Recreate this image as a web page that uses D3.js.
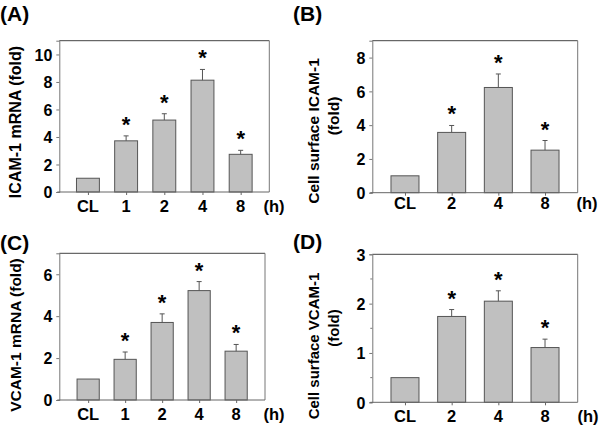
<!DOCTYPE html>
<html><head><meta charset="utf-8">
<script src="https://cdn.jsdelivr.net/npm/d3@7"></script>
<style>
html,body{margin:0;padding:0;background:#fff;}
svg text{font-family:"Liberation Sans",Arial,sans-serif;font-weight:bold;fill:#000;}
</style></head>
<body>
<svg id="chart" width="600" height="430"></svg>
<script>
// ---- data ----
const catsA = ["CL","1","2","4","8"];
const valsA = [1.0, 3.72, 5.23, 8.13, 2.74];
const errA  = [0, 0.36, 0.46, 0.78, 0.29];
const starA = [false, true, true, true, true];
const ticksA = [0,2,4,6,8,10];

const catsB = ["CL","2","4","8"];
const valsB = [1.0, 3.57, 6.23, 2.52];
const errB  = [0, 0.41, 0.80, 0.57];
const starB = [false, true, true, true];
const ticksB = [0,2,4,6,8];

const catsC = ["CL","1","2","4","8"];
const valsC = [1.0, 1.94, 3.70, 5.22, 2.33];
const errC  = [0, 0.35, 0.41, 0.43, 0.32];
const starC = [false, true, true, true, true];
const ticksC = [0,2,4,6];

const catsD = ["CL","2","4","8"];
const valsD = [0.5, 1.74, 2.05, 1.11];
const errD  = [0, 0.14, 0.21, 0.17];
const starD = [false, true, true, true];
const ticksD = [0,1,2,3];
const minorD = [0.5,1.5,2.5];

const svg = d3.select("#chart");

function panel(o){
  const g = svg.append("g");
  const x = d3.scalePoint().domain(o.cats).range([o.l, o.r]).padding(o.pad);
  const y = d3.scaleLinear().domain([0, o.ymax]).range([o.b, o.t]);
  const bw = x.step()*0.6;
  const data = o.cats.map((c,i)=>({c, v:o.vals[i], e:o.err[i], s:o.star[i]}));

  g.append("line").attr("x1",o.l).attr("x2",o.r).attr("y1",o.t).attr("y2",o.t)
    .attr("stroke","#444").attr("stroke-width",1);
  g.append("line").attr("x1",o.r).attr("x2",o.r).attr("y1",o.t).attr("y2",o.b)
    .attr("stroke","#777").attr("stroke-width",1);

  g.selectAll("rect.bar").data(data).enter().append("rect")
    .attr("x", d=>x(d.c)-bw/2).attr("width", bw)
    .attr("y", d=>y(d.v)).attr("height", d=>o.b - y(d.v))
    .attr("fill","#c0c0c0").attr("stroke","#555").attr("stroke-width",1);

  const eb = data.filter(d=>d.e>0);
  g.selectAll("line.ev").data(eb).enter().append("line")
    .attr("x1", d=>x(d.c)).attr("x2", d=>x(d.c))
    .attr("y1", d=>y(d.v)).attr("y2", d=>y(d.v+d.e))
    .attr("stroke","#555").attr("stroke-width",1);
  g.selectAll("line.ec").data(eb).enter().append("line")
    .attr("x1", d=>x(d.c)-2.5).attr("x2", d=>x(d.c)+2.5)
    .attr("y1", d=>y(d.v+d.e)).attr("y2", d=>y(d.v+d.e))
    .attr("stroke","#555").attr("stroke-width",1);

  g.selectAll("text.star").data(data.filter(d=>d.s)).enter().append("text")
    .attr("x", d=>x(d.c)).attr("y", d=>y(d.v+d.e)-4)
    .attr("text-anchor","middle").attr("font-size",22).text("*");

  const ya = g.append("g").attr("transform",`translate(${o.l},0)`)
    .call(d3.axisLeft(y).tickValues(o.ticks).tickSize(3).tickPadding(4).tickFormat(d3.format("d")));
  ya.attr("font-size",null).attr("font-family",null);
  ya.select(".domain").attr("stroke","#777");
  ya.selectAll(".tick line").attr("stroke","#777");
  ya.selectAll(".tick text").attr("font-size",16).attr("dy","0.36em");
  if (o.minor) {
    g.selectAll("line.minor").data(o.minor).enter().append("line")
      .attr("x1",o.l-2).attr("x2",o.l).attr("y1",d=>y(d)).attr("y2",d=>y(d))
      .attr("stroke","#777");
  }

  const xa = g.append("g").attr("transform",`translate(0,${o.b})`)
    .call(d3.axisBottom(x).tickSize(3).tickSizeOuter(0).tickFormat(()=>""));
  xa.select(".domain").attr("stroke","#666").attr("d",`M${o.l-2},0H${o.r}`);
  xa.selectAll(".tick line").attr("stroke","#666");
  g.selectAll("text.xl").data(o.cats).enter().append("text")
    .attr("x", d=>x(d)).attr("y", o.xlY).attr("text-anchor","middle")
    .attr("font-size",16.5).text(d=>d);
  g.append("text").attr("x",o.hX).attr("y",o.xlY).attr("text-anchor","middle")
    .attr("font-size",16.5).text("(h)");

  o.titles.forEach(t=>{
    g.append("text").attr("transform",`translate(${t.x},${t.y}) rotate(-90)`)
      .attr("text-anchor","middle").attr("font-size",t.fs).text(t.s);
  });

  g.append("text").attr("x",o.lx).attr("y",o.ly).attr("font-size",21).text(o.label);
}

panel({cats:catsA, vals:valsA, err:errA, star:starA, ticks:ticksA, ymax:11,
  l:59.3, r:269.3, t:40.7, b:192, pad:0.75, xlY:212, hX:274,
  titles:[{s:"ICAM-1 mRNA (fold)", x:20.5, y:122, fs:16}], label:"(A)", lx:0, ly:21});
panel({cats:catsB, vals:valsB, err:errB, star:starB, ticks:ticksB, ymax:9,
  l:372.3, r:577.7, t:40.7, b:192.7, pad:0.70, xlY:209, hX:587,
  titles:[{s:"Cell surface ICAM-1", x:318.5, y:131, fs:15.5},{s:"(fold)", x:339, y:116, fs:15.5}], label:"(B)", lx:293, ly:21});
panel({cats:catsC, vals:valsC, err:errC, star:starC, ticks:ticksC, ymax:7,
  l:59.3, r:265, t:253.3, b:400, pad:0.78, xlY:420, hX:274,
  titles:[{s:"VCAM-1 mRNA (fold)", x:20.5, y:335, fs:15.5}], label:"(C)", lx:0, ly:250});
panel({cats:catsD, vals:valsD, err:errD, star:starD, ticks:ticksD, minor:minorD, ymax:3,
  l:372.3, r:577.7, t:254.3, b:402.3, pad:0.70, xlY:422, hX:588,
  titles:[{s:"Cell surface VCAM-1", x:318.5, y:346, fs:15},{s:"(fold)", x:339, y:328, fs:15}], label:"(D)", lx:293, ly:249});
</script>
</body></html>
